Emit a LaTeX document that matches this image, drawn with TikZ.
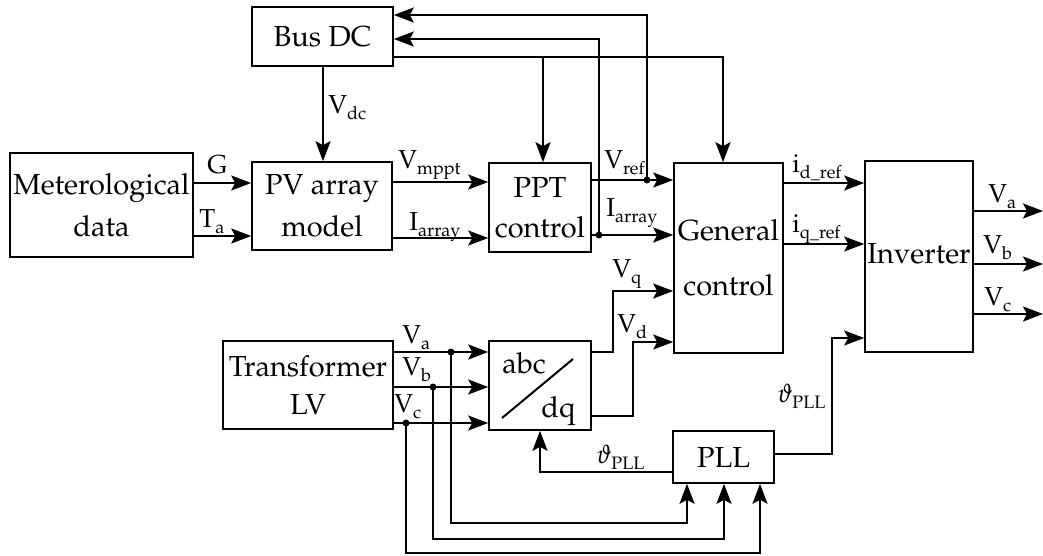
\documentclass[tikz,border=0pt]{standalone}
\usepackage[T1]{fontenc}
\usepackage{mathpazo}
\usetikzlibrary{arrows.meta,calc}
\newcommand{\mysub}[1]{\raisebox{-3pt}{\fontsize{9}{9}\selectfont #1}}
\tikzset{
  box/.style={draw, line width=0.8pt, inner sep=0pt, align=center, font=\fontsize{14.5}{21}\selectfont},
  btxt/.style={inner sep=0pt, font=\fontsize{14.5}{21}\selectfont},
  lbl/.style={inner sep=0pt, anchor=base west, font=\fontsize{13}{15}\selectfont},
  ln/.style={line width=1pt},
  arr/.style={line width=1pt, -{Stealth[length=10pt,width=7.5pt,inset=2pt]}},
  dot/.style={fill=black}
}
\begin{document}
\begin{tikzpicture}[x=0.5pt,y=-0.5pt]
\useasboundingbox (0,0) rectangle (1043,556);
% boxes
\node[box, minimum width=70.5pt, minimum height=29.5pt] (bus) at (322.5,36.5) {Bus DC};
\node[box, minimum width=91.5pt, minimum height=52pt] (met) at (101.5,205) {Meterological\\data};
\node[box, minimum width=70pt, minimum height=44pt] (pv) at (322,206) {PV array\\model};
\node[box, minimum width=51pt, minimum height=44.5pt] (ppt) at (540,207.5) {PPT\\[-1pt]control};
\node[box, minimum width=54.5pt, minimum height=95pt] (gen) at (728.5,258) {General\\[6.5pt]control};
\node[box, minimum width=54pt, minimum height=95.5pt] (inv) at (919,256.5) {\raisebox{3pt}{Inverter}};
\node[box, minimum width=85pt, minimum height=44pt] (tr) at (308,385) {Transformer\\[-2pt]LV};
\node[box, minimum width=51pt, minimum height=44.5pt] (abc) at (540,385.5) {};
\node[box, minimum width=50.5pt, minimum height=26pt] (pll) at (723.5,457) {PLL};
\node[btxt, anchor=base west] (tabc) at (502,373) {abc};
\node[btxt, anchor=base west] (tdq) at (541,417) {dq};
\draw[ln] ([shift={(-38,32.5)}]abc.center) -- ([shift={(33,-26.5)}]abc.center);
% junctions and free ends
\coordinate (j1) at (647,180);
\coordinate (j2) at (599,235);
\coordinate (b1) at (543,57);
\coordinate (ja) at (451,352);
\coordinate (jb) at (433,387);
\coordinate (jc) at (406,423);
\coordinate (oa) at (1043,211);
\coordinate (ob) at (1043,264);
\coordinate (oc) at (1043,314);
% connectors
\draw[arr] (met.east |- 0,183) -- (pv.west |- 0,183);
\draw[arr] (met.east |- 0,236) -- (pv.west |- 0,236);
\draw[arr] (bus.south -| 323,0) -- (pv.north -| 323,0);
\draw[arr] (pv.east |- 0,182) -- (ppt.west |- 0,182);
\draw[arr] (pv.east |- 0,238) -- (ppt.west |- 0,238);
\draw[arr] (bus.east |- 0,57) -| (gen.north -| 723,0);
\draw[arr] (b1) -- (ppt.north -| b1);
\draw[arr] (ppt.east |- j1) -- (gen.west |- j1);
\draw[arr] (ppt.east |- j2) -- (gen.west |- j2);
\draw[arr] (j1) |- (bus.east |- 0,15);
\draw[arr] (j2) |- (bus.east |- 0,39);
\fill[dot] (j1) circle (1.75pt);
\fill[dot] (j2) circle (1.75pt);
\draw[arr] (gen.east |- 0,183) -- (inv.west |- 0,183);
\draw[arr] (gen.east |- 0,244) -- (inv.west |- 0,244);
\draw[arr] (inv.east |- oa) -- (oa);
\draw[arr] (inv.east |- ob) -- (ob);
\draw[arr] (inv.east |- oc) -- (oc);
\draw[arr] (tr.east |- ja) -- (abc.west |- ja);
\draw[arr] (tr.east |- jb) -- (abc.west |- jb);
\draw[arr] (tr.east |- jc) -- (abc.west |- jc);
\fill[dot] (ja) circle (1.75pt);
\fill[dot] (jb) circle (1.75pt);
\fill[dot] (jc) circle (1.75pt);
\draw[arr] (ja) -- (ja |- 0,523) -| (pll.south -| 687,0);
\draw[arr] (jb) -- (jb |- 0,539) -| (pll.south -| 724,0);
\draw[arr] (jc) -- (jc |- 0,553) -| (pll.south -| 760,0);
\draw[arr] (abc.east |- 0,352) -- (613,352) |- (gen.west |- 0,291);
\draw[arr] (abc.east |- 0,416) -- (633,416) |- (gen.west |- 0,342);
\draw[arr] (pll.west |- 0,472) -| (abc.south);
\draw[arr] (pll.east |- 0,454) -- (832,454) |- (inv.west |- 0,338);
% labels
\node[lbl] (lG) at (207,173) {G};
\node[lbl] (lTa) at (199,227) {T\mysub{a}};
\node[lbl] (lVdc) at (328,113) {V\mysub{dc}};
\node[lbl] (lVm) at (398,168) {V\mysub{mppt}};
\node[lbl] (lIa) at (409,230) {I\mysub{array}};
\node[lbl] (lVr) at (604,168) {V\mysub{ref}};
\node[lbl] (lIa2) at (606,216) {I\mysub{array}};
\node[lbl] (lVq) at (612,277) {V\mysub{q}};
\node[lbl] (lVd) at (617,332) {V\mysub{d}};
\node[lbl] (lid) at (792,172) {i\mysub{d\_ref}};
\node[lbl] (liq) at (792,232) {i\mysub{q\_ref}};
\node[lbl] (loa) at (988,202) {V\mysub{a}};
\node[lbl] (lob) at (983,253) {V\mysub{b}};
\node[lbl] (loc) at (984,305) {V\mysub{c}};
\node[lbl] (lta) at (402,343) {V\mysub{a}};
\node[lbl] (ltb) at (402,375) {V\mysub{b}};
\node[lbl] (ltc) at (394,412) {V\mysub{c}};
\node[lbl] (lth1) at (596,463) {$\vartheta$\mysub{PLL}};
\node[lbl] (lth2) at (777,402) {$\vartheta$\mysub{PLL}};
\end{tikzpicture}
\end{document}
